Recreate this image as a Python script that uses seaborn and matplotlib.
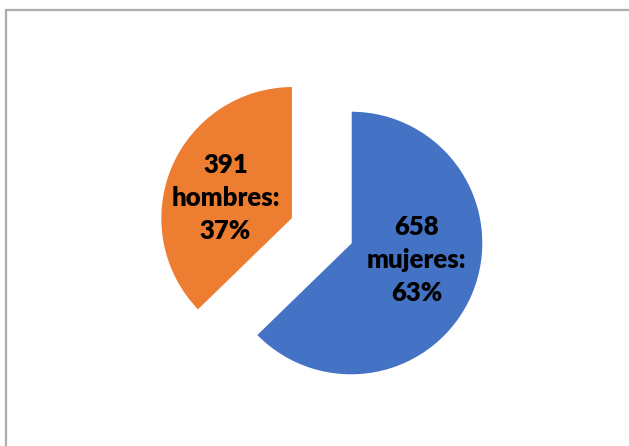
import matplotlib
matplotlib.use("Agg")
import matplotlib.pyplot as plt
import seaborn as sns
from matplotlib.patches import Rectangle

sns.set_theme(style="white")
plt.rcParams["font.family"] = ["Lato", "DejaVu Sans"]

# data
categories = ["mujeres", "hombres"]
counts = [658, 391]
shares = [63, 37]
colors = sns.color_palette(["#4472C4", "#ED7D31"])

labels = [f"{n}\n{c}:\n{p}%" for c, n, p in zip(categories, counts, shares)]

W, H = 629, 446
fig = plt.figure(figsize=(W / 100, H / 100), dpi=100)
fig.patch.set_facecolor("white")

# chart-area border (Excel style), running off right and bottom edges
fig.add_artist(Rectangle((6.5 / W, -0.05), 1.2, 1 - 9.5 / H + 0.05,
                         transform=fig.transFigure, fill=False,
                         edgecolor="#ADADAD", linewidth=1.6))

ax = fig.add_axes([0, 0, 1, 1])
wedges, texts = ax.pie(counts, colors=colors, startangle=90, counterclock=False,
                       explode=[0, 0.48], labels=labels, labeldistance=0.52,
                       textprops=dict(fontsize=18.5, fontweight="heavy", color="black",
                                      ha="center", va="center", linespacing=1.45))

# pie() resets the limits, so place the pie afterwards
cx, cy, r = 351, 243, 132
ax.set_xlim(-cx / r, (W - cx) / r)
ax.set_ylim(-(H - cy) / r, cy / r)
ax.set_aspect("equal")
ax.axis("off")

# nudge labels to sit where the original puts them
offsets = [(0.02, 0.07), (-0.03, -0.05)]
for t, (dx, dy) in zip(texts, offsets):
    x, y = t.get_position()
    t.set_position((x + dx, y + dy))

fig.savefig("out.png", dpi=100)
